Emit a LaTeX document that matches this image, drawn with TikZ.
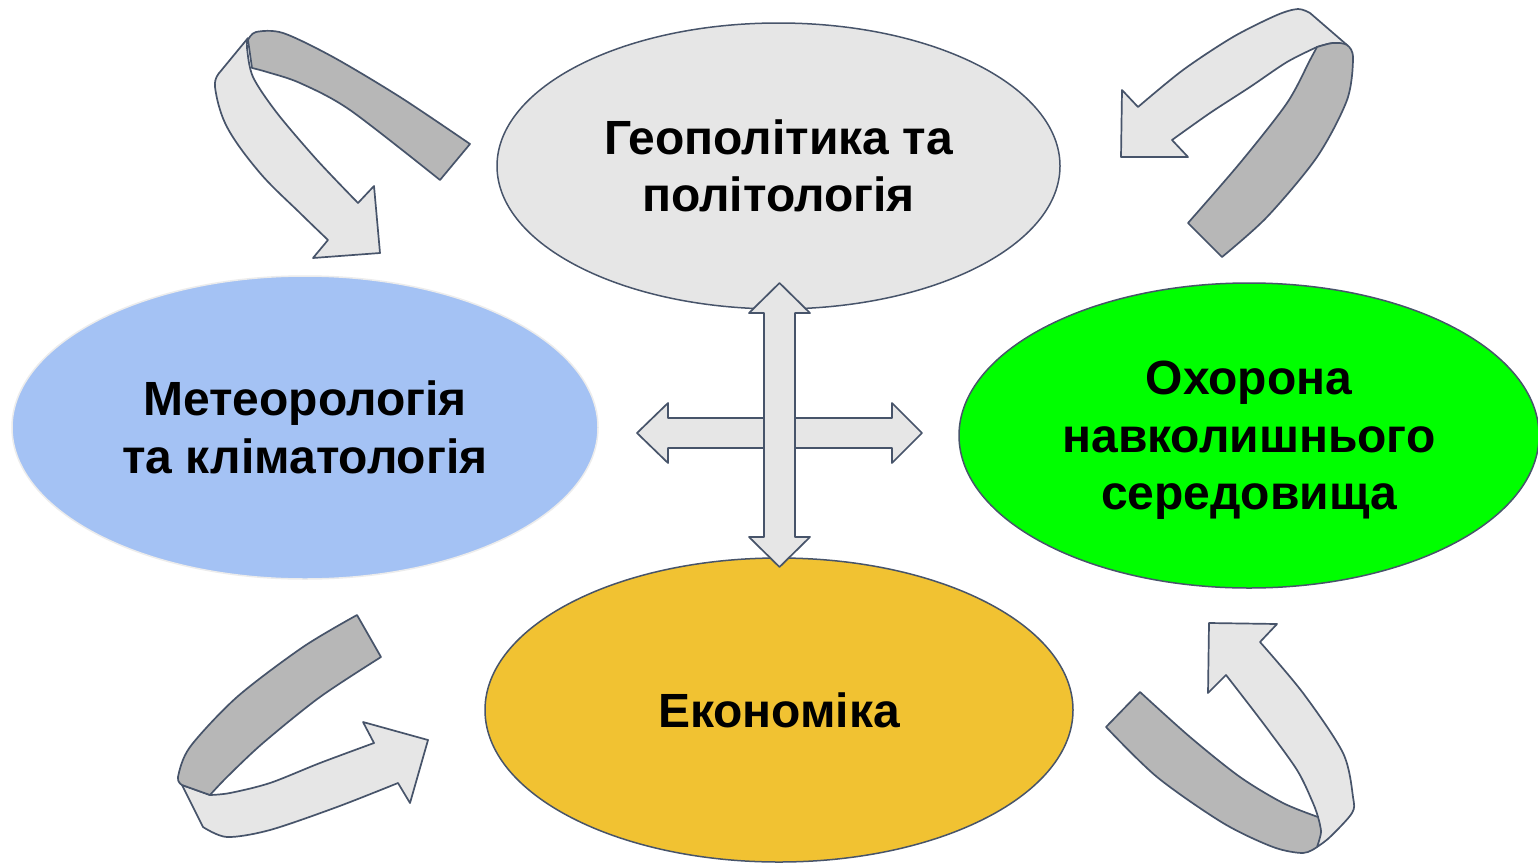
\documentclass[tikz,border=0pt]{standalone}
\usepackage{fontspec}
\setmainfont{Liberation Sans}
\usetikzlibrary{shapes.geometric}
\definecolor{edgec}{HTML}{47546A}
\definecolor{lightg}{HTML}{E6E6E6}
\definecolor{darkg}{HTML}{B7B7B7}
\definecolor{blueF}{HTML}{A4C2F4}
\definecolor{greenF}{HTML}{00FF00}
\definecolor{goldF}{HTML}{F1C232}
\definecolor{paleEdge}{HTML}{ECECEC}
\tikzset{
  topic/.style={ellipse, inner sep=0pt, align=center, line width=1.5pt, draw=edgec,
    font=\bfseries\fontsize{48}{57.5}\selectfont},
  lightband/.style={fill=lightg, draw=edgec, line width=1.7pt, line join=round},
  darkband/.style={fill=darkg, draw=edgec, line width=1.7pt, line join=round},
}
\begin{document}
\begin{tikzpicture}[x=1pt,y=-1pt]
\useasboundingbox (0,0) rectangle (1538,862);
\fill[white] (0,0) rectangle (1538,862);

% topics
\node[topic, fill=lightg, minimum width=563pt, minimum height=286pt] (geo) at (778.5,166) {Геополітика та\\політологія};
\node[topic, fill=blueF, draw=paleEdge, minimum width=586pt, minimum height=303pt] (met) at (305,427.5) {Метеорологія\\та кліматологія};
\node[topic, fill=greenF, text depth=0pt, minimum width=580pt, minimum height=305pt] (env) at (1249,435.5) {Охорона\\навколишнього\\середовища};
\node[topic, fill=goldF, minimum width=588pt, minimum height=304pt] (eco) at (779,710) {Економіка};

% cross arrows
\filldraw[lightband] (637,433) -- (668,403) -- (668,418) -- (892,418) -- (892,403) -- (922,433)
  -- (892,463) -- (892,448) -- (668,448) -- (668,463) -- cycle;
\filldraw[lightband] (779.5,283) -- (810,313) -- (795,313) -- (795,537) -- (810,537) -- (779.5,567)
  -- (749,537) -- (764,537) -- (764,313) -- (749,313) -- cycle;

% top-left curved arrow
\filldraw[lightband] (248,38) -- plot[smooth,tension=0.6] coordinates {(220,72) (215,87) (227,127) (260,173) (300,213) (328,240)}
  -- (313,258) -- (380,253) -- (374,186)
  -- plot[smooth] coordinates {(358,203) (317,160) (277,113) (253,77) (247,48) (248,38)} -- cycle;
\filldraw[darkband] plot[smooth] coordinates {(248,40) (256,32) (283,33) (333,57) (400,97) (470,144)}
  -- (440,180) -- plot[smooth] coordinates {(440,180) (350,110) (300,83) (267,72) (252,68)} -- cycle;

% top-right curved arrow
\filldraw[lightband] plot[smooth] coordinates {(1138,107) (1183,70) (1233,37) (1277,15) (1298,9) (1310,13)}
  -- (1347,45) -- plot[smooth] coordinates {(1347,45) (1333,43) (1317,47)}
  -- plot[smooth] coordinates {(1317,47) (1287,62) (1250,87) (1210,113) (1172,140)}
  -- (1188,157) -- (1121,157) -- (1122,90) -- cycle;
\filldraw[darkband] plot[smooth] coordinates {(1317,47) (1333,43) (1347,45) (1353,58) (1347,100) (1317,157) (1267,217) (1222,257)}
  -- (1188,223) -- plot[smooth] coordinates {(1188,223) (1240,163) (1287,103) (1310,60) (1317,47)} -- cycle;

% bottom-left curved arrow
\filldraw[lightband] (182,785) -- plot[smooth] coordinates {(203,827) (227,837) (270,830) (337,807) (398,783)}
  -- (410,803) -- (428,740) -- (363,722)
  -- plot[smooth] coordinates {(374,743) (320,763) (270,783) (230,793) (210,795)} -- cycle;
\filldraw[darkband] plot[smooth] coordinates {(357,615) (303,647) (237,697) (190,747) (178,777) (182,785)}
  -- (210,795) -- plot[smooth] coordinates {(210,795) (227,777) (263,743) (320,697) (381,657)} -- cycle;

% bottom-right curved arrow
\filldraw[lightband] plot[smooth] coordinates {(1317,847) (1330,837) (1352,813) (1353,797) (1343,753) (1303,693) (1260,642)}
  -- (1277,624) -- (1209,623) -- (1208,693)
  -- plot[smooth] coordinates {(1226,675) (1263,723) (1297,770) (1313,803) (1318,817)} -- cycle;
\filldraw[darkband] (1106,727) -- (1140,692)
  -- plot[smooth] coordinates {(1140,692) (1190,737) (1240,777) (1283,803) (1318,817)}
  -- plot[smooth] coordinates {(1318,817) (1321,832) (1317,847)}
  -- plot[smooth] coordinates {(1317,847) (1303,853) (1273,847) (1223,823) (1157,777) (1106,727)} -- cycle;
\end{tikzpicture}
\end{document}
